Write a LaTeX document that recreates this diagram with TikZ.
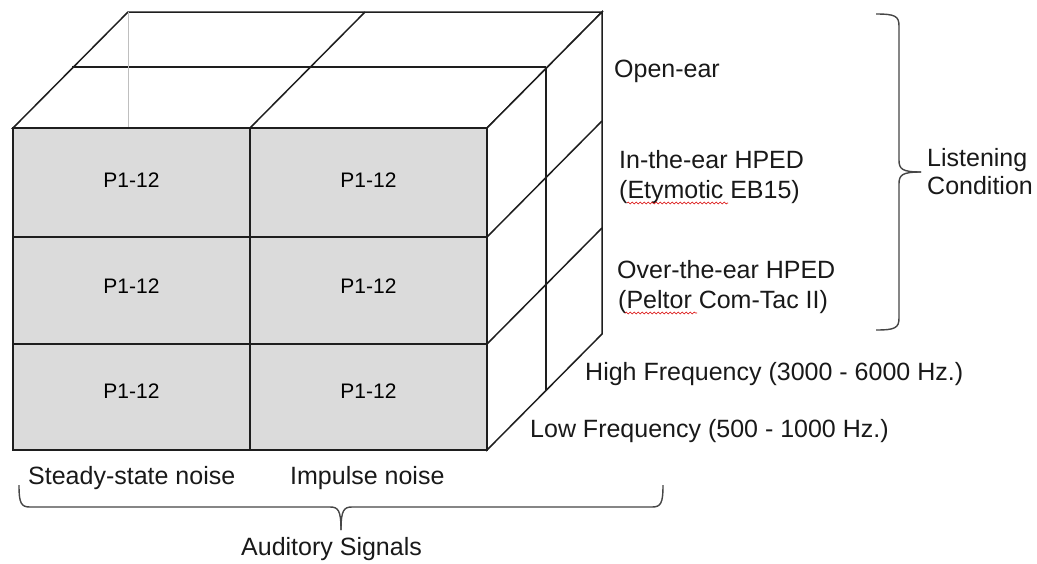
\documentclass[tikz,border=0pt]{standalone}
\usepackage{fontspec}
\setmainfont{Liberation Sans}
\usetikzlibrary{decorations.pathmorphing}
\definecolor{cellgray}{RGB}{219,219,219}
\definecolor{inkline}{RGB}{30,30,30}
\definecolor{bracegray}{RGB}{70,70,70}

\tikzset{
  edge/.style={draw=inkline, line width=1.5pt, line join=miter},
  frontedge/.style={draw=inkline, line width=2.4pt, line join=miter},
  celltext/.style={font=\fontsize{21}{25}\selectfont, inner sep=0pt, anchor=base},
  label/.style={font=\fontsize{25}{30}\selectfont, inner sep=0pt, anchor=base west, text=black!90},
  bracepath/.style={draw=bracegray, line width=1.4pt},
  spellmark/.style={draw=red!85!black, line width=0.6pt, decorate,
    decoration={snake, segment length=4pt, amplitude=0.9pt}}
}

\begin{document}
\begin{tikzpicture}[x=1pt, y=-1pt]
\useasboundingbox[fill=white] (0,0) rectangle (1037,563);

% front face corners
\coordinate (ftl) at (13,128);
\coordinate (ftr) at (487,128);
\coordinate (fbl) at (13,450);
\coordinate (fbr) at (487,450);
% back corners (depth offset 115,-116)
\coordinate (btl) at (128,12);
\coordinate (btr) at (602,12);
\coordinate (bbr) at (602,334);

% top face
\filldraw[edge, fill=white] (ftl) -- (btl) -- (btr) -- (ftr) -- cycle;
\draw[edge] (250,128) -- (365,12);
\draw[edge] (72,67) -- (546,67);
% hidden edge showing faintly through the top face
\draw[black!25, line width=0.6pt] (btl) -- (128,128);

% right face
\filldraw[edge, fill=white] (ftr) -- (btr) -- (bbr) -- (fbr) -- cycle;
\draw[edge] (487,237) -- (602,121);
\draw[edge] (487,344) -- (602,228);
\draw[edge] (546,67) -- (546,390);

% front face: 2 columns x 3 rows
\fill[cellgray] (ftl) rectangle (fbr);
\draw[edge] (250,128) -- (250,450);
\draw[edge] (13,237) -- (487,237);
\draw[edge] (13,344) -- (487,344);
\draw[frontedge] (ftl) rectangle (fbr);

% cell labels
\foreach \cx in {131.5,368.5}{
  \foreach \by in {187,293,398}{
    \node[celltext] at (\cx,\by) {P1-12};
  }
}

% listening conditions
\node[label] (open) at (614,77) {Open-ear};
\node[label] (inear1) at (619,168) {In-the-ear HPED};
\node[label] (inear2) at (619,198) {(Etymotic EB15)};
\node[label] (over1) at (617,278) {Over-the-ear HPED};
\node[label] (over2) at (618,308) {(Peltor Com-Tac II)};
\draw[spellmark] (627,203) -- (728,203);
\draw[spellmark] (625,313) -- (697,313);

% frequency bands
\node[label] (high) at (585,380) {High Frequency (3000 - 6000 Hz.)};
\node[label] (low) at (530,437) {Low Frequency (500 - 1000 Hz.)};

% auditory signals
\node[label] (steady) at (28,484) {Steady-state noise};
\node[label] (impulse) at (290,484) {Impulse noise};

% right brace
\draw[bracepath] (876,14) .. controls (895,14) and (899,16) .. (899,26)
  -- (899,160) .. controls (899,169) and (902,172) .. (921,172);
\draw[bracepath] (921,172) .. controls (902,172) and (899,175) .. (899,184)
  -- (899,318) .. controls (899,328) and (895,330) .. (876,330);
\node[label] (listen1) at (927,166) {Listening};
\node[label] (listen2) at (927,194) {Condition};

% bottom brace
\draw[bracepath] (19,485) .. controls (19,503) and (21,507) .. (30,507)
  -- (330,507) .. controls (338,507) and (341,510) .. (341,530);
\draw[bracepath] (341,530) .. controls (341,510) and (344,507) .. (352,507)
  -- (652,507) .. controls (661,507) and (663,503) .. (663,485);
\node[label] (signals) at (241,555) {Auditory Signals};
\end{tikzpicture}
\end{document}
